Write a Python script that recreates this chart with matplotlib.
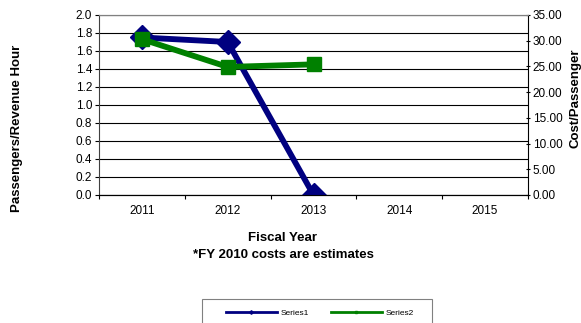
import matplotlib
matplotlib.use('Agg')
from matplotlib import pyplot as plt
from matplotlib.patches import Rectangle
import numpy as np

years = ['2011', '2012', '2013', '2014', '2015']
series1 = [1.75, 1.70, 0.0]      # passengers / revenue hour
series2 = [30.3, 24.9, 25.4]     # cost / passenger

plt.rcParams['font.family'] = ['Liberation Sans', 'DejaVu Sans']

W, H = 581, 323
fig = plt.figure(figsize=(W / 100, H / 100), dpi=100)
ax = fig.add_axes([0.1704, 0.3963, 0.7384, 0.5573])
ax2 = ax.twinx()

x = np.arange(len(years))
l1, = ax.plot(x[:len(series1)], series1, color='#000080', linewidth=4.2,
              marker='D', markersize=12, label='Series1', zorder=3)
l2, = ax2.plot(x[:len(series2)], series2, color='#008000', linewidth=4.2,
               marker='s', markersize=10, label='Series2', zorder=3)

ax.set_xlim(-0.5, len(years) - 0.5)
ax.set_ylim(0, 2.0)
ax.set_yticks(np.arange(0, 2.01, 0.2))
ax.set_yticklabels(['%.1f' % v for v in np.arange(0, 2.01, 0.2)])
ax2.set_ylim(0, 35)
ax2.set_yticks(np.arange(0, 35.1, 5))
ax2.set_yticklabels(['%.2f' % v for v in np.arange(0, 35.1, 5)])

ax.set_xticks(x)
ax.set_xticklabels(years)
ax.set_xticks(np.arange(-0.5, len(years), 1.0), minor=True)
ax.tick_params(axis='x', which='major', length=0, labelsize=8.5, pad=7)
ax.tick_params(axis='x', which='minor', length=3, width=0.8, direction='out')
ax.tick_params(axis='y', length=3, width=0.8, labelsize=8.5, pad=2)
ax2.tick_params(axis='y', length=3, width=0.8, labelsize=8.5, pad=2, direction='inout')

ax.yaxis.grid(True, color='black', linewidth=0.8)
ax.set_axisbelow(True)
ax.spines['top'].set_color('#808080')
ax2.spines['top'].set_color('#808080')
ax.spines['left'].set_color('#404040')
ax2.spines['left'].set_visible(False)
ax.spines['right'].set_visible(False)
ax2.spines['right'].set_color('black')

# axis titles placed on the figure
fig.text(17 / W, 1 - 128 / H, 'Passengers/Revenue Hour', fontsize=9.5, fontweight='bold',
         rotation=90, ha='center', va='center')
fig.text(575 / W, 1 - 98 / H, 'Cost/Passenger', fontsize=9.5, fontweight='bold',
         rotation=90, ha='center', va='center')
fig.text(283 / W, 1 - 238 / H, 'Fiscal Year', fontsize=9.5, fontweight='bold',
         ha='center', va='center')
fig.text(283 / W, 1 - 255 / H, '*FY 2010 costs are estimates', fontsize=9.5,
         fontweight='bold', ha='center', va='center')

# legend box runs off the bottom edge
fig.patches.append(Rectangle((202 / W, -0.05), 230 / W, 0.05 + 1 - 299 / H,
                             transform=fig.transFigure, facecolor='white',
                             edgecolor='#808080', linewidth=0.8, zorder=1))
leg = fig.legend(handles=[l1, l2], loc='center left', bbox_to_anchor=(226 / W, 1 - 313 / H),
                 ncol=2, fontsize=6, frameon=False, borderpad=0, borderaxespad=0,
                 handlelength=6.1, handletextpad=0.5, columnspacing=2.6, markerscale=0.15)
leg.set_zorder(2)
for h in leg.legend_handles:
    h.set_linewidth(2)

fig.savefig('out.png', dpi=100)
